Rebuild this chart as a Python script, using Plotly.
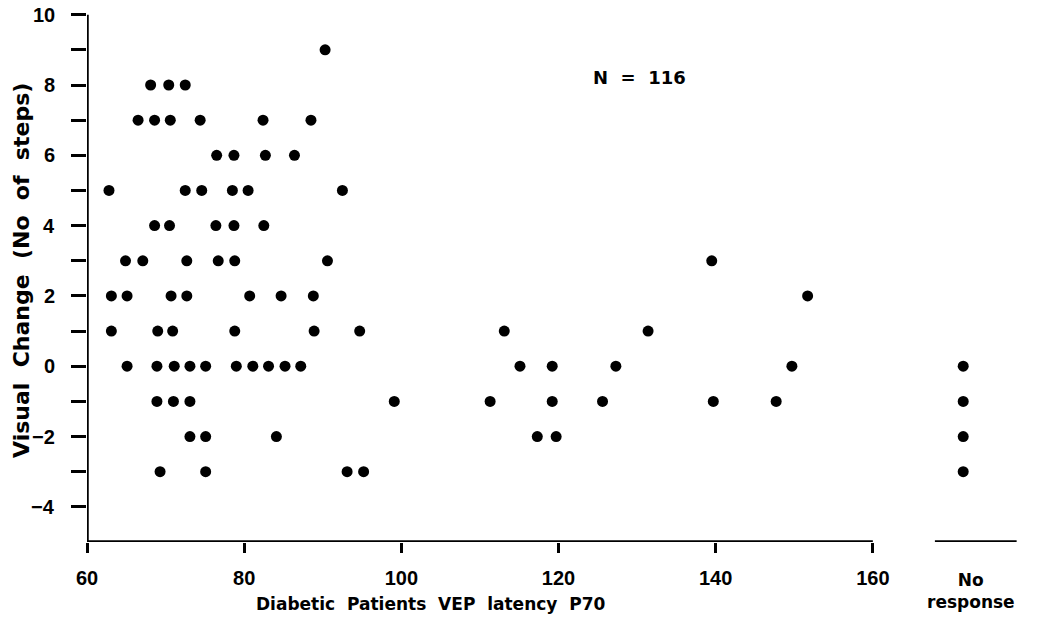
import plotly.graph_objects as go

# ---- data ----
latency = [
    90.3,
    68.1, 70.4, 72.5,
    66.5, 68.6, 70.6, 74.4, 82.4, 88.5,
    76.5, 78.7, 82.7, 86.4,
    62.8, 72.5, 74.6, 78.5, 80.5, 92.5,
    68.6, 70.5, 76.4, 78.7, 82.5,
    64.9, 67.1, 72.7, 76.7, 78.8, 90.6, 139.5,
    63.1, 65.1, 70.7, 72.7, 80.7, 84.7, 88.8, 151.7,
    63.1, 69.0, 70.9, 78.8, 88.9, 94.7, 113.1, 131.4,
    65.1, 68.9, 71.1, 73.1, 75.1, 79.0, 81.1, 83.1, 85.2, 87.2, 115.1, 119.2, 127.3, 149.7,
    68.9, 71.0, 73.1, 99.1, 111.3, 119.2, 125.6, 139.7, 147.7,
    73.1, 75.1, 84.1, 117.3, 119.7,
    69.3, 75.1, 93.1, 95.2,
]
visual_change = (
    [9]
    + [8] * 3
    + [7] * 6
    + [6] * 4
    + [5] * 6
    + [4] * 5
    + [3] * 7
    + [2] * 8
    + [1] * 8
    + [0] * 14
    + [-1] * 9
    + [-2] * 5
    + [-3] * 4
)
no_response_change = [0, -1, -2, -3]

x_ticks = [60, 80, 100, 120, 140, 160]
y_ticks = list(range(-4, 11))
y_labelled = [v for v in y_ticks if v % 2 == 0]

# layout constants
NO_RESP_X = 171.5
X_RANGE = [60, 180]
Y_RANGE = [-5, 10.02]
FONT = "Liberation Sans"
WORD_FONT = "DejaVu Sans"

marker = dict(color="black", size=11, line=dict(width=0))

fig = go.Figure()
fig.add_trace(go.Scatter(x=latency, y=visual_change, mode="markers",
                         marker=marker, showlegend=False, hoverinfo="x+y"))
fig.add_trace(go.Scatter(x=[NO_RESP_X] * len(no_response_change), y=no_response_change,
                         mode="markers", marker=marker, showlegend=False, hoverinfo="y"))

axis_line = dict(color="black", width=3.5)
shapes = [
    dict(type="line", xref="x", yref="y", x0=60, x1=160, y0=-5, y1=-5, line=axis_line),
    dict(type="line", xref="x", yref="y", x0=60, x1=60, y0=-5, y1=10, line=axis_line),
    dict(type="line", xref="x", yref="y", x0=167.9, x1=178.3, y0=-5, y1=-5, line=axis_line),
]

# page body margin is removed by post_script, so the figure fills the window
W, H = 1042, 630
L, T = 87, 14
PW, PH = 943, 528
R, B = W - L - PW, H - T - PH


def px_x(wx):
    return (wx - L) / PW


def px_y(wy):
    return (T + PH - wy) / PH


bold = dict(color="black", weight="bold")
annotations = [
    dict(text="N  =  116", x=130.3, y=8.2, xref="x", yref="y", showarrow=False,
         font=dict(family=WORD_FONT, size=18, **bold)),
    dict(text="Diabetic  Patients  VEP  latency  P70", x=px_x(431), y=px_y(604),
         xref="paper", yref="paper", showarrow=False, xanchor="center", yanchor="middle",
         font=dict(family=WORD_FONT, size=17, **bold)),
    dict(text="Visual  Change  (No  of  steps)", x=px_x(21), y=px_y(271),
         xref="paper", yref="paper", textangle=-90, showarrow=False,
         xanchor="center", yanchor="middle", font=dict(family=WORD_FONT, size=22, **bold)),
    dict(text="No<br>response", x=px_x(971), y=px_y(591), xref="paper", yref="paper",
         showarrow=False, align="center", xanchor="center", yanchor="middle",
         font=dict(family=WORD_FONT, size=17, **bold)),
]
for v in y_labelled:
    annotations.append(dict(text=str(v).replace("-", "\u2212"), x=px_x(57), y=v,
                            xref="paper", yref="y", xanchor="right", yanchor="middle",
                            showarrow=False, font=dict(family=FONT, size=20, **bold)))

fig.update_layout(
    width=W, height=H,
    margin=dict(l=L, r=R, t=T, b=B, autoexpand=False),
    plot_bgcolor="white", paper_bgcolor="white",
    shapes=shapes, annotations=annotations,
    font=dict(family=FONT, color="black"),
    xaxis=dict(range=X_RANGE, showgrid=False, zeroline=False, showline=False,
               tickvals=x_ticks, ticks="outside", ticklen=10, tickwidth=2.5,
               tickcolor="black", ticklabelstandoff=8,
               tickfont=dict(family=FONT, size=20, **bold)),
    yaxis=dict(range=Y_RANGE, showgrid=False, zeroline=False, showline=False,
               tickvals=y_ticks, showticklabels=False, ticks="outside", ticklen=15,
               tickwidth=2.5, tickcolor="black"),
)

fig.write_html("out.html", config={"displayModeBar": False},
               post_script="document.body.style.margin='0';document.body.style.padding='0';")
